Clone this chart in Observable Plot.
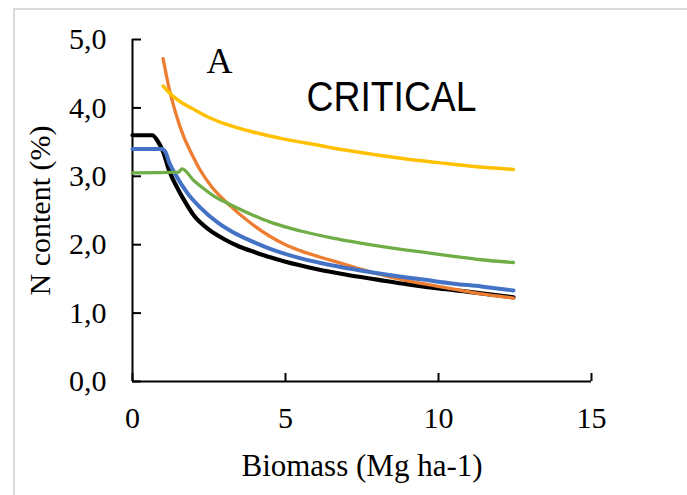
<!DOCTYPE html>
<html><head><meta charset="utf-8">
<script src="https://cdn.jsdelivr.net/npm/d3@7"></script>
<script src="https://cdn.jsdelivr.net/npm/@observablehq/plot@0.6"></script>
<style>
body{margin:0;background:#fff;}
#wrap{position:relative;width:687px;height:495px;overflow:hidden;background:#fff;}
#frame{position:absolute;left:13px;top:8px;width:720px;height:540px;border:2px solid #d9d9d9;box-sizing:border-box;}
#chart{position:absolute;left:0;top:0;}
</style></head><body><div id="wrap"><div id="frame"></div><div id="chart"></div></div>
<script>
// ---- data ----
const xTicks = [0, 5, 10, 15];
const yTicks = [0, 1, 2, 3, 4, 5];
const xTitle = "Biomass (Mg ha-1)";
const yTitle = "N content (%)";
const panelLabel = "A";
const panelTitle = "CRITICAL";

const blackX = [0, 0.65, 0.8, 1.0, 1.2, 1.5, 1.7, 2.0, 2.5, 3.0, 3.5, 4.0, 4.5, 5.0, 6.0, 7.0, 8.0, 9.0, 10.0, 11.0, 12.45];
const blackY = [3.6, 3.6, 3.53, 3.36, 3.08, 2.8, 2.64, 2.43, 2.22, 2.08, 1.97, 1.89, 1.815, 1.75, 1.645, 1.56, 1.49, 1.42, 1.36, 1.31, 1.23];

const blueX = [0, 0.95, 1.07, 1.2, 1.4, 1.8, 2.2, 2.8, 3.3, 3.85, 4.5, 5.5, 6.5, 7.5, 8.5, 9.5, 10.5, 11.4, 12.45];
const blueY = [3.4, 3.4, 3.36, 3.2, 3.03, 2.75, 2.55, 2.32, 2.18, 2.06, 1.94, 1.8, 1.7, 1.62, 1.55, 1.49, 1.43, 1.39, 1.33];

const greenX = [0, 1.5, 1.62, 2.0, 2.3, 2.7, 3.14, 3.85, 4.5, 5.5, 6.5, 7.5, 8.5, 9.5, 10.5, 11.4, 12.45];
const greenY = [3.05, 3.06, 3.11, 2.94, 2.83, 2.7, 2.6, 2.45, 2.33, 2.2, 2.1, 2.02, 1.95, 1.89, 1.83, 1.78, 1.74];

const orangeX = [1.0, 1.2, 1.4, 1.7, 1.9, 2.2, 2.6, 3.14, 3.85, 4.5, 5.0, 5.5, 6.5, 7.1, 7.8, 8.5, 9.5, 10.5, 11.4, 12.45];
const orangeY = [4.72, 4.28, 3.94, 3.55, 3.36, 3.1, 2.84, 2.59, 2.32, 2.12, 2.0, 1.91, 1.77, 1.69, 1.6, 1.52, 1.43, 1.35, 1.28, 1.22];

const yellowX = [1.0, 1.3, 1.6, 2.0, 2.5, 3.0, 4.0, 5.0, 6.0, 7.0, 8.0, 9.0, 10.0, 11.0, 12.45];
const yellowY = [4.32, 4.18, 4.08, 3.98, 3.86, 3.77, 3.64, 3.54, 3.46, 3.38, 3.31, 3.25, 3.2, 3.15, 3.1];

const toRows = (xs, ys) => xs.map((x, i) => ({x, y: ys[i]}));
const fmt = d => d.toFixed(1).replace(".", ",");
const serif = "'Liberation Serif', 'Times New Roman', serif";

const line = (xs, ys, stroke, w) => Plot.line(toRows(xs, ys), {
  x: "x", y: "y", stroke, strokeWidth: w, curve: "monotone-x",
  strokeLinecap: "round", strokeLinejoin: "round"
});

const chart = Plot.plot({
  width: 687, height: 495,
  marginLeft: 132, marginRight: 96, marginTop: 39, marginBottom: 114,
  x: {domain: [0, 15]},
  y: {domain: [0, 5]},
  style: {fontFamily: serif, background: "transparent", color: "#000", overflow: "visible"},
  marks: [
    Plot.axisY({ticks: yTicks, tickSize: -9, tickFormat: () => "", label: null, strokeWidth: 2}),
    Plot.axisY({ticks: yTicks, tickSize: 0, tickPadding: 26, tickFormat: fmt, fontSize: 30, label: null}),
    Plot.axisX({ticks: xTicks, tickSize: -8, tickFormat: () => "", label: null, strokeWidth: 2}),
    Plot.axisX({ticks: xTicks, tickSize: 0, tickPadding: 25, tickFormat: d => String(d), fontSize: 30, label: null}),
    Plot.ruleX([0], {stroke: "#000", strokeWidth: 2}),
    Plot.ruleY([0], {stroke: "#000", strokeWidth: 2}),
    line(blackX, blackY, "#000000", 4.2),
    line(orangeX, orangeY, "#ED7D31", 3.3),
    line(blueX, blueY, "#4472C4", 4),
    line(greenX, greenY, "#70AD47", 3.3),
    line(yellowX, yellowY, "#FFC000", 3.5),
    Plot.text([yTitle], {frameAnchor: "left", dx: -92, rotate: -90, textAnchor: "middle", lineAnchor: "middle", fontSize: 30, fontFamily: serif}),
    Plot.text([xTitle], {frameAnchor: "bottom", dy: 85, textAnchor: "middle", lineAnchor: "middle", fontSize: 31, fontFamily: serif}),
    Plot.text([panelLabel], {frameAnchor: "top-left", dx: 74, dy: 33, textAnchor: "start", lineAnchor: "bottom", fontSize: 36, fontFamily: serif}),
    Plot.text([panelTitle], {frameAnchor: "top-left", dx: 174, dy: 71, textAnchor: "start", lineAnchor: "bottom", fontSize: 43, fontFamily: "'Liberation Sans', Arial, sans-serif", className: "crit"})
  ]
});
document.getElementById("chart").appendChild(chart);
d3.select(chart).selectAll(".crit text").attr("textLength", 170).attr("lengthAdjust", "spacingAndGlyphs");
</script></body></html>
